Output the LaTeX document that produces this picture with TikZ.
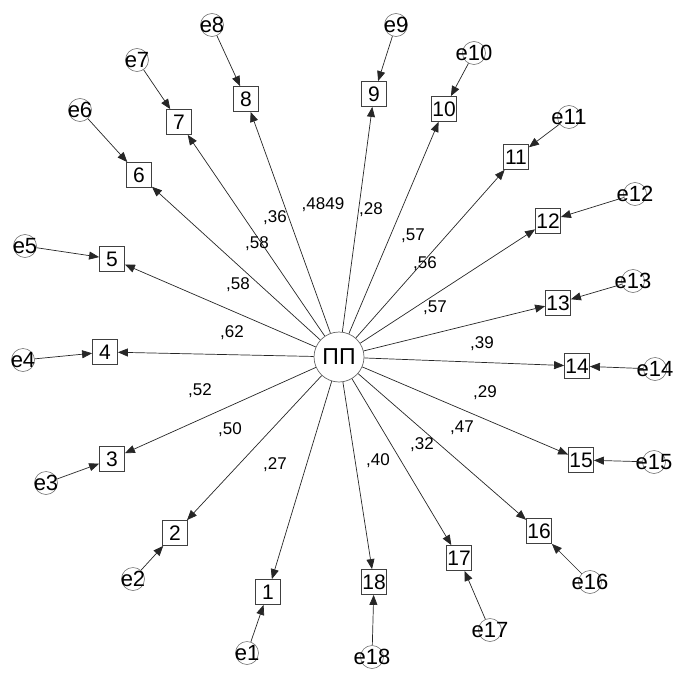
\documentclass[tikz,border=0pt]{standalone}
\usepackage{fontspec}
\setmainfont{Liberation Sans}
\usetikzlibrary{arrows.meta}
\begin{document}
\begin{tikzpicture}[x=1pt,y=-1pt,
  obs/.style={draw=black!75,line width=0.8pt,minimum width=25pt,minimum height=25pt,inner sep=0pt,font=\fontsize{21}{21}\selectfont},
  err/.style={draw=black!55,circle,line width=0.6pt,minimum size=23pt,inner sep=0pt},
  elab/.style={inner sep=0pt,font=\fontsize{22}{22}\selectfont},
  lat/.style={draw=black!60,circle,line width=0.7pt,minimum size=50pt,inner sep=0pt,font=\fontsize{23}{23}\selectfont},
  arr/.style={-{Triangle[length=10pt,width=8pt]},line width=0.7pt,draw=black!85},
  val/.style={font=\fontsize{17}{17}\selectfont,inner sep=0pt}
]
\useasboundingbox (0,0) rectangle (679,682);
\node[lat] (L) at (339,357) {ПП};
% observed boxes
\node[obs] (b1) at (268,592) {1};
\node[obs] (b2) at (175,533) {2};
\node[obs] (b3) at (112,459) {3};
\node[obs] (b4) at (105,352) {4};
\node[obs] (b5) at (112,259) {5};
\node[obs] (b6) at (139,175) {6};
\node[obs] (b7) at (179,122) {7};
\node[obs] (b8) at (246,99) {8};
\node[obs] (b9) at (374,94) {9};
\node[obs] (b10) at (444,109) {10};
\node[obs] (b11) at (516,157) {11};
\node[obs] (b12) at (548,221) {12};
\node[obs] (b13) at (558,303) {13};
\node[obs] (b14) at (577,366) {14};
\node[obs] (b15) at (581,460) {15};
\node[obs] (b16) at (539,531) {16};
\node[obs] (b17) at (459,558) {17};
\node[obs] (b18) at (374,582) {18};
% error circles
\node[err,label={[elab]center:e1}] (e1) at (247,653) {};
\node[err,label={[elab]center:e2}] (e2) at (133,579) {};
\node[err,label={[elab]center:e3}] (e3) at (46,483) {};
\node[err,label={[elab]center:e4}] (e4) at (23,360) {};
\node[err,label={[elab]center:e5}] (e5) at (25,246) {};
\node[err,label={[elab]center:e6}] (e6) at (80,110) {};
\node[err,label={[elab]center:e7}] (e7) at (137,60) {};
\node[err,label={[elab]center:e8}] (e8) at (212,25) {};
\node[err,label={[elab]center:e9}] (e9) at (396,25) {};
\node[err,label={[elab]center:e10}] (e10) at (474,53) {};
\node[err,label={[elab]center:e11}] (e11) at (569,117) {};
\node[err,label={[elab]center:e12}] (e12) at (635,194) {};
\node[err,label={[elab]center:e13}] (e13) at (633,281) {};
\node[err,label={[elab]center:e14}] (e14) at (655,369) {};
\node[err,label={[elab]center:e15}] (e15) at (654,462) {};
\node[err,label={[elab]center:e16}] (e16) at (590,582) {};
\node[err,label={[elab]center:e17}] (e17) at (490,630) {};
\node[err,label={[elab]center:e18}] (e18) at (372,657) {};
% connectors
\foreach \i in {1,...,18}{
  \draw[arr] (L) -- (b\i);
  \draw[arr] (e\i) -- (b\i);
}
% loadings
\node[val] (v1) at (275,465) {,27};
\node[val] (v2) at (230,430) {,50};
\node[val] (v3) at (200,391) {,52};
\node[val] (v4) at (232,333) {,62};
\node[val] (v5) at (238,285) {,58};
\node[val] (v6) at (257,244) {,58};
\node[val] (v7) at (275,218) {,36};
\node[val] (v8) at (323,205) {,4849};
\node[val] (v9) at (371,210) {,28};
\node[val] (v10) at (413,236) {,57};
\node[val] (v11) at (425,264) {,56};
\node[val] (v12) at (435,308) {,57};
\node[val] (v13) at (482,344) {,39};
\node[val] (v14) at (485,393) {,29};
\node[val] (v15) at (462,428) {,47};
\node[val] (v16) at (422,445) {,32};
\node[val] (v17) at (378,461) {,40};
\end{tikzpicture}
\end{document}
